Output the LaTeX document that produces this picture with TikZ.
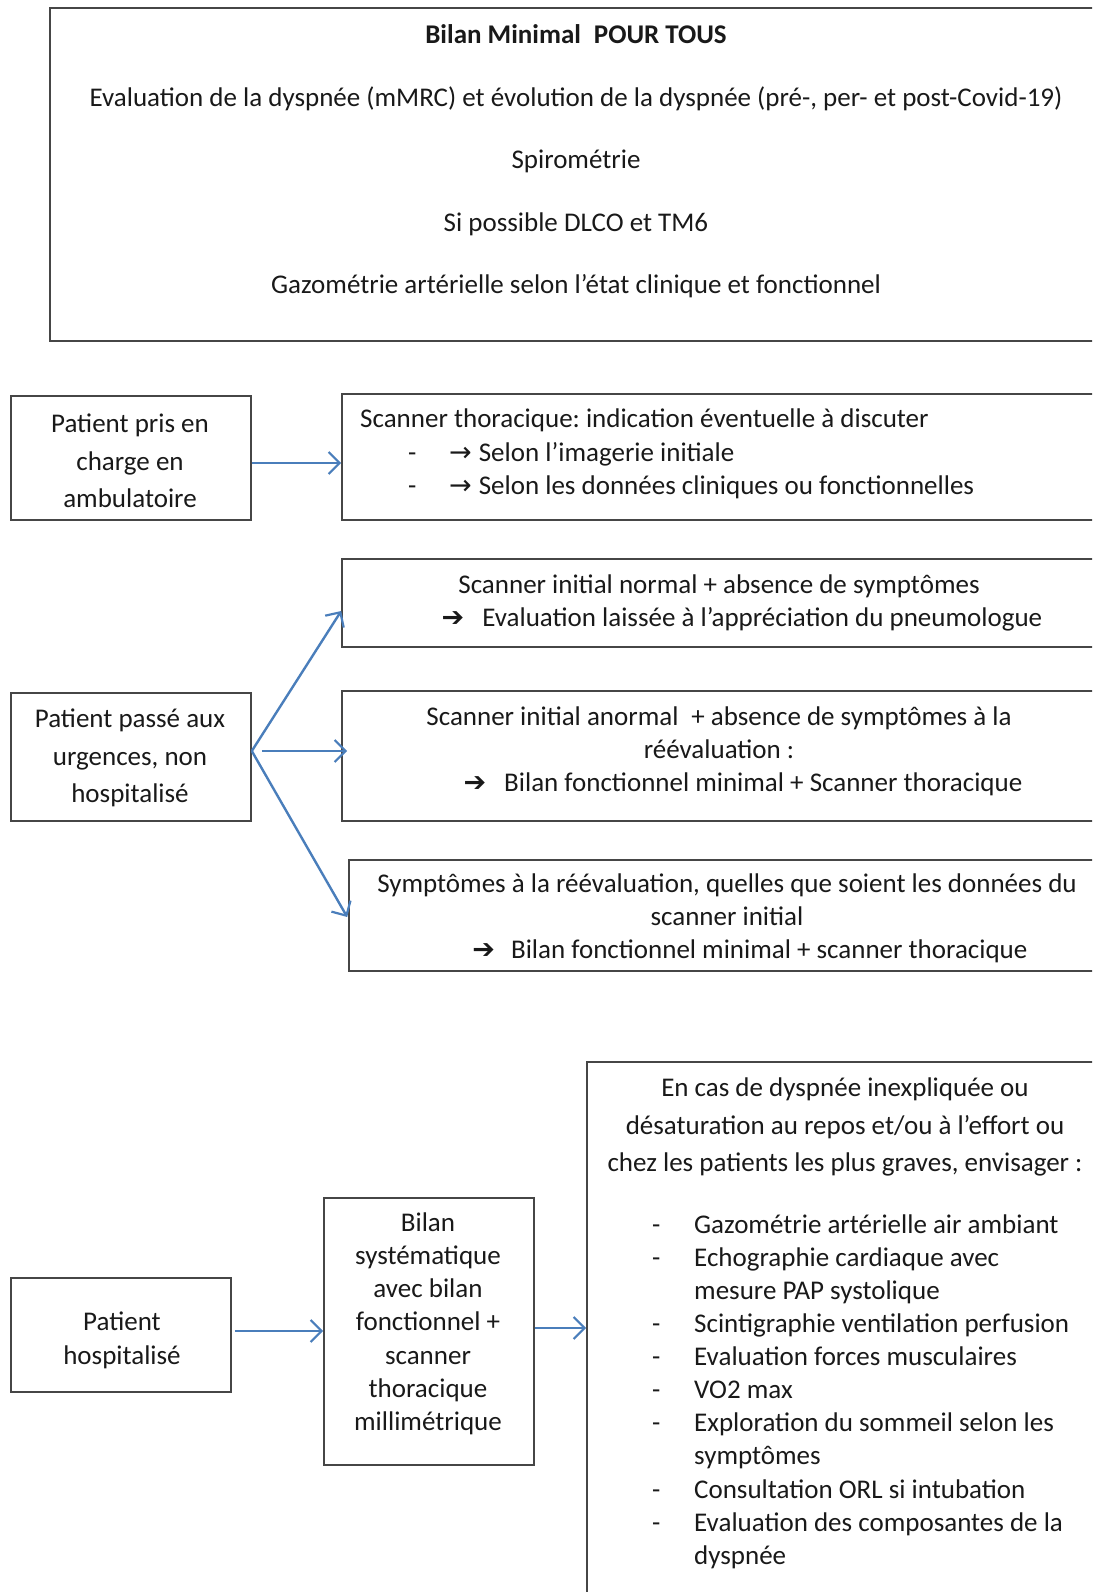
\documentclass[tikz,border=0pt]{standalone}
\usepackage{fontspec}
\setmainfont{Carlito}
\newfontfamily\symfont{DejaVu Sans}
\usetikzlibrary{arrows.meta}
\definecolor{lineblue}{RGB}{74,126,187}
\definecolor{boxgray}{RGB}{70,70,70}
\frenchspacing
\begin{document}
\begin{tikzpicture}[x=1pt,y=-1pt,
  box/.style={draw=boxgray, line width=1.6pt, inner sep=0pt},
  txt/.style={text=black!90, inner sep=0pt},
  conn/.style={draw=lineblue, line width=2.4pt, -{Straight Barb[length=11pt,width=22pt,line width=2.2pt]}}]
\useasboundingbox (0,0) rectangle (1092,1592);
\clip (0,0) rectangle (1092,1592);
% boxes
\node[box, minimum width=1052pt, minimum height=333pt] (top) at (576,174.5) {};
\node[box, minimum width=240pt, minimum height=124pt] (A) at (131,458) {};
\node[box, minimum width=768pt, minimum height=126pt] (B) at (726,457) {};
\node[box, minimum width=240pt, minimum height=128pt] (C) at (131,757) {};
\node[box, minimum width=768pt, minimum height=88pt] (D1) at (726,603) {};
\node[box, minimum width=768pt, minimum height=130pt] (D2) at (726,756) {};
\node[box, minimum width=761pt, minimum height=111pt] (D3) at (729.5,915.5) {};
\node[box, minimum width=220pt, minimum height=114pt] (E) at (121,1335) {};
\node[box, minimum width=210pt, minimum height=267pt] (F) at (429,1331.5) {};
\node[box, minimum width=523pt, minimum height=558pt] (G) at (848.5,1341) {};
% texts
\node[txt, align=center, font=\fontsize{27}{62.4}\selectfont] (toptxt) at (576,161.5)
 {\textbf{Bilan Minimal\hspace{0.25em} POUR TOUS}\\
  Evaluation de la dyspnée (mMRC) et évolution de la dyspnée (pré-, per- et post-Covid-19)\\
  Spirométrie\\
  Si possible DLCO et TM6\\
  Gazométrie artérielle selon l’état clinique et fonctionnel};
\node[txt, align=center, font=\fontsize{27}{37.5}\selectfont] (Atxt) at (130,461)
 {Patient pris en\\charge en\\ambulatoire};
\node[txt, align=left, anchor=west, font=\fontsize{27}{33.5}\selectfont] (Btxt) at (360,454)
 {Scanner thoracique: indication éventuelle à discuter\\
  \hspace*{48pt}\makebox[41pt][l]{-}{\symfont →}\hspace{7pt}Selon l’imagerie initiale\\
  \hspace*{48pt}\makebox[41pt][l]{-}{\symfont →}\hspace{7pt}Selon les données cliniques ou fonctionnelles};
\node[txt, align=center, font=\fontsize{27}{37.5}\selectfont] (Ctxt) at (130,758)
 {Patient passé aux\\urgences, non\\hospitalisé};
\node[txt, align=center, font=\fontsize{27}{32.5}\selectfont] (D1txt) at (719,603)
 {Scanner initial normal + absence de symptômes\\
  \hspace*{46pt}{\symfont ➔}\hspace{18pt}Evaluation laissée à l’appréciation du pneumologue};
\node[txt, align=center, font=\fontsize{27}{33}\selectfont] (D2txt) at (719,751)
 {Scanner initial anormal\hspace{0.25em} + absence de symptômes à la\\
  réévaluation :\\
  \hspace*{48pt}{\symfont ➔}\hspace{18pt}Bilan fonctionnel minimal + Scanner thoracique};
\node[txt, align=center, font=\fontsize{27}{33}\selectfont] (D3txt) at (727,918)
 {Symptômes à la réévaluation, quelles que soient les données du\\
  scanner initial\\
  \hspace*{46pt}{\symfont ➔}\hspace{16pt}Bilan fonctionnel minimal + scanner thoracique};
\node[txt, align=center, font=\fontsize{27}{34}\selectfont] (Etxt) at (122,1340)
 {Patient\\hospitalisé};
\node[txt, align=center, font=\fontsize{27}{33.2}\selectfont] (Ftxt) at (428,1323.6)
 {Bilan\\systématique\\avec bilan\\fonctionnel +\\scanner\\thoracique\\millimétrique};
\node[txt, align=center, font=\fontsize{27}{37.6}\selectfont] (Ghead) at (845,1127)
 {En cas de dyspnée inexpliquée ou\\
  désaturation au repos et/ou à l’effort ou\\
  chez les patients les plus graves, envisager :};
\node[txt, align=left, anchor=west, font=\fontsize{27}{33.1}\selectfont] (Glist) at (652,1391.5)
 {\makebox[42pt][l]{-}Gazométrie artérielle air ambiant\\
  \makebox[42pt][l]{-}Echographie cardiaque avec\\
  \hspace*{42pt}mesure PAP systolique\\
  \makebox[42pt][l]{-}Scintigraphie ventilation perfusion\\
  \makebox[42pt][l]{-}Evaluation forces musculaires\\
  \makebox[42pt][l]{-}VO2 max\\
  \makebox[42pt][l]{-}Exploration du sommeil selon les\\
  \hspace*{42pt}symptômes\\
  \makebox[42pt][l]{-}Consultation ORL si intubation\\
  \makebox[42pt][l]{-}Evaluation des composantes de la\\
  \hspace*{42pt}dyspnée};
% connectors
\draw[conn] ([yshift=-5pt]A.east) -- ([yshift=-6pt]B.west);
\draw[conn] ([yshift=6pt]C.east) -- ([yshift=-8pt]D1.west);
\draw[conn] ([xshift=10pt,yshift=6pt]C.east) -- ([xshift=6pt,yshift=5pt]D2.west);
\draw[conn] ([yshift=6pt]C.east) -- ([xshift=-1pt,yshift=-1.5pt]D3.west);
\draw[conn] ([xshift=3pt,yshift=4pt]E.east) -- ([yshift=0.5pt]F.west);
\draw[conn] ([yshift=3.5pt]F.east) -- ([yshift=13pt]G.west);
\end{tikzpicture}
\end{document}
